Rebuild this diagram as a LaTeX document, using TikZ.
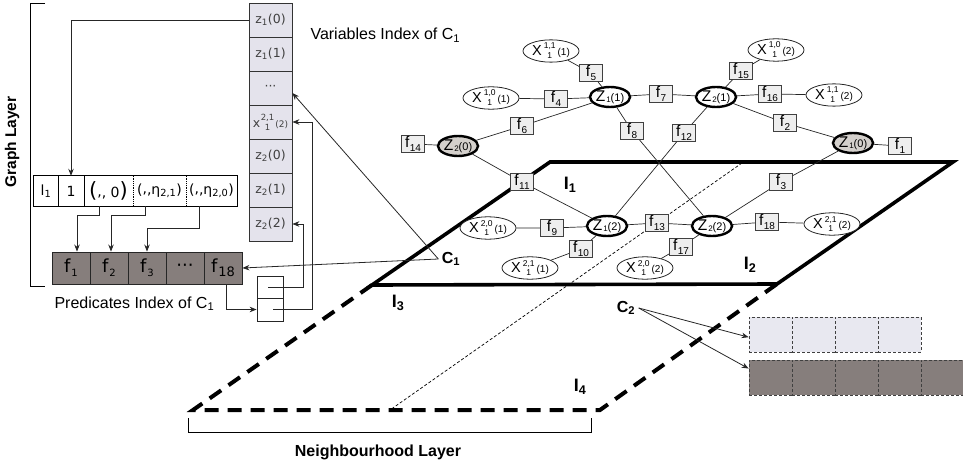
\documentclass[tikz,border=0pt]{standalone}
\usepackage{fontspec}
\setmainfont{Liberation Sans}
\newfontfamily\dv{DejaVu Sans}
\usetikzlibrary{arrows.meta,shapes.geometric,calc}

\definecolor{colcell}{RGB}{228,227,236}
\definecolor{predcell}{RGB}{134,126,124}
\definecolor{nblight}{RGB}{232,232,240}
\definecolor{zfill}{RGB}{212,208,204}
\definecolor{ffill}{RGB}{238,238,238}

% small stacked indices
\newcommand\sm{\fontsize{8.5}{8.5}\selectfont}
\newcommand\xlab[3]{X\kern2pt\raisebox{-3pt}{\sm\shortstack{#1\\#2}}\kern2pt{\fontsize{10}{10}\selectfont(#3)}}
\newcommand\zlab[2]{Z\kern1pt\raisebox{-1.5pt}{\fontsize{8}{8}\selectfont #1}{\fontsize{11}{11}\selectfont(#2)}}
\newcommand\flab[1]{f\kern0.5pt\raisebox{-3.5pt}{\fontsize{10}{10}\selectfont #1}}
\newcommand\plab[2]{f\kern1pt\raisebox{-4pt}{\fontsize{#2}{#2}\selectfont #1}}

\tikzset{
  fac/.style={draw=black!75, fill=ffill, line width=0.8pt, minimum width=23pt,
    minimum height=17pt, inner sep=0pt, font=\fontsize{15.5}{15.5}\selectfont},
  var/.style={ellipse, draw=black!85, fill=white, line width=0.8pt, minimum width=56pt,
    minimum height=19pt, inner sep=0pt, font=\fontsize{14.5}{14.5}\selectfont},
  zv/.style={ellipse, draw=black, fill=white, line width=2.4pt, minimum width=38pt,
    minimum height=20pt, inner sep=0pt, font=\fontsize{15.5}{15.5}\selectfont},
  zvo/.style={zv, fill=zfill},
  link/.style={draw=black!85, line width=0.7pt},
  arr/.style={draw=black!85, line width=0.8pt, -{Stealth[length=7pt,width=5.5pt]}},
  vcell/.style={draw=black!80, fill=colcell, line width=0.8pt, minimum width=43pt,
    minimum height=34pt, inner sep=0pt, text=black!75, font=\dv\fontsize{12.5}{13}\selectfont},
  pcell/.style={draw=black!85, fill=predcell, line width=0.9pt, minimum width=38pt,
    minimum height=32pt, inner sep=0pt, font=\dv\fontsize{18}{18}\selectfont},
  tcell/.style={minimum height=30pt, inner sep=0pt, font=\dv\fontsize{14}{14}\selectfont},
  ncell/.style={draw=black!75, dashed, dash pattern=on 3pt off 2pt, line width=0.8pt,
    minimum width=43pt, minimum height=35pt, inner sep=0pt},
  lbl/.style={font=\bfseries\fontsize{16}{16}\selectfont},
  llbl/.style={font=\bfseries\fontsize{18}{18}\selectfont},
  plane/.style={line width=3.6pt, line join=miter},
  nplane/.style={line width=4pt, dash pattern=on 14pt off 9pt},
}

\begin{document}
\begin{tikzpicture}[x=1pt,y=-1pt]
\useasboundingbox (0,0) rectangle (963,465);

% ---------- layers ----------
\coordinate (pa) at (372,285);
\coordinate (pb) at (550,162);
\coordinate (pc) at (953,162);
\coordinate (pd) at (777,284);
\coordinate (na) at (193,410);
\coordinate (nb) at (600,410);
\draw[nplane] (pa) -- (na) -- (nb) -- (pd);
\draw[dashed, line width=0.7pt, dash pattern=on 3pt off 2pt] (742,163) -- (390,410);
\draw[plane] (pa) -- (pb) -- (pc) -- (pd) -- cycle;

% ---------- brackets ----------
\draw[line width=0.9pt] (45,3) -- (30,3) -- (30,286) -- (45,286);
\node[font=\bfseries\fontsize{15.5}{16}\selectfont, rotate=90] (glayer) at (12,142) {Graph Layer};
\draw[line width=0.9pt] (188,418) -- (188,432) -- (591,432) -- (591,418);
\node[anchor=base, font=\bfseries\fontsize{16}{16}\selectfont] (nlayer) at (378,456) {Neighbourhood Layer};

% ---------- variables index ----------
\node[vcell] (v1) at (270.5,20)  {z\textsubscript{1}(0)};
\node[vcell] (v2) at (270.5,54)  {z\textsubscript{1}(1)};
\node[vcell] (v3) at (270.5,88)  {···};
\node[vcell] (v4) at (270.5,122) {x\kern0.5pt\raisebox{-3pt}{\sm\shortstack{2,1\\1}}\kern1pt{\fontsize{9}{9}\selectfont(2)}};
\node[vcell] (v5) at (270.5,156) {z\textsubscript{2}(0)};
\node[vcell] (v6) at (270.5,190) {z\textsubscript{2}(1)};
\node[vcell] (v7) at (270.5,224) {z\textsubscript{2}(2)};
\node[anchor=base west, font=\fontsize{16}{17}\selectfont] (vtitle) at (307,40) {Variables Index of C\textsubscript{1}};

% ---------- tuple ----------
\node[tcell, minimum width=24pt] (t1) at (46,191)  {l\textsubscript{1}};
\node[tcell, minimum width=26pt] (t2) at (71,191)  {1};
\node[tcell, minimum width=49pt] (t3) at (108.5,191) {{\fontsize{21}{21}\selectfont(}\raisebox{1pt}{,}, 0{\fontsize{21}{21}\selectfont)}};
\node[tcell, minimum width=53pt] (t4) at (159.5,191) {(\raisebox{1pt}{,},η\textsubscript{2,1})};
\node[tcell, minimum width=51pt] (t5) at (211.5,191) {(\raisebox{1pt}{,},η\textsubscript{2,0})};
\draw[line width=0.8pt] (t1.north west) rectangle (t5.south east);
\draw[line width=0.8pt] (t1.north east) -- (t1.south east);
\draw[line width=0.8pt] (t2.north east) -- (t2.south east);
\draw[line width=0.8pt, densely dotted] (t3.north east) -- (t3.south east);
\draw[line width=0.8pt, densely dotted] (t4.north east) -- (t4.south east);

% ---------- predicates index ----------
\node[pcell] (p1) at (71,268)  {\plab{1}{10}};
\node[pcell] (p2) at (109,268) {\plab{2}{10}};
\node[pcell] (p3) at (147,268) {\plab{3}{10}};
\node[pcell] (p4) at (185,268) {···};
\node[pcell] (p5) at (223,268) {\plab{18}{13}};
\node[anchor=base west, font=\fontsize{16}{17}\selectfont] (ptitle) at (51,308) {Predicates Index of C\textsubscript{1}};

% ---------- pointer block ----------
\node[draw=black!85, line width=0.8pt, minimum width=26pt, minimum height=22pt, inner sep=0pt] (b1) at (270,287) {};
\node[draw=black!85, line width=0.8pt, minimum width=26pt, minimum height=23pt, inner sep=0pt] (b2) at (270,309.5) {};

% ---------- index arrows ----------
\draw[arr] (v1.west) -| (t2.north);
\draw[arr] ([xshift=-9.5pt]t3.south) -- ++(0,9) -| ([xshift=6pt]p1.north);
\draw[arr] ([xshift=-14.5pt]t4.south) -- ++(0,9) -| ([xshift=2pt]p2.north);
\draw[arr] ([xshift=-12.5pt]t5.south) -- ++(0,22) -| (p3.north);
\draw[arr] ([xshift=-2pt]b1.center) -- ++(35,0) |- (v7.east);
\draw[arr] ([xshift=3pt]b2.center) -- ++(39,0) |- (v4.east);
\draw[arr] ([xshift=3pt]p5.south) |- (b2.west);

% ---------- factor graph ----------
\node[zv]  (z11) at (610,97)  {\zlab{1}{1}};
\node[zv]  (z21) at (716,97)  {\zlab{2}{1}};
\node[zvo] (z20) at (458,146) {\zlab{2}{0}};
\node[zvo] (z10) at (853,143) {\zlab{1}{0}};
\node[zv]  (z12) at (607,226) {\zlab{1}{2}};
\node[zv]  (z22) at (712,226) {\zlab{2}{2}};

\node[var] (xa) at (551,51)  {\xlab{1,1}{1}{1}};
\node[var] (xb) at (491,98)  {\xlab{1,0}{1}{1}};
\node[var] (xc) at (776,50)  {\xlab{1,0}{1}{2}};
\node[var] (xd) at (834,95)  {\xlab{1,1}{1}{2}};
\node[var] (xe) at (488,228) {\xlab{2,0}{1}{1}};
\node[var] (xf) at (530,268) {\xlab{2,1}{1}{1}};
\node[var] (xg) at (645,268) {\xlab{2,0}{1}{2}};
\node[var] (xh) at (832,224) {\xlab{2,1}{1}{2}};

\node[fac] (f1)  at (900,146) {\flab{1}};
\node[fac] (f2)  at (785,123) {\flab{2}};
\node[fac] (f3)  at (781,182) {\flab{3}};
\node[fac] (f4)  at (556,99)  {\flab{4}};
\node[fac] (f5)  at (591,73)  {\flab{5}};
\node[fac] (f6)  at (522,126) {\flab{6}};
\node[fac] (f7)  at (661,94)  {\flab{7}};
\node[fac] (f8)  at (632,131) {\flab{8}};
\node[fac] (f9)  at (552,228) {\flab{9}};
\node[fac] (f10) at (581,249) {\flab{10}};
\node[fac] (f11) at (522,182) {\flab{11}};
\node[fac] (f12) at (684,133) {\flab{12}};
\node[fac] (f13) at (657,223) {\flab{13}};
\node[fac] (f14) at (413,144) {\flab{14}};
\node[fac] (f15) at (741,71)  {\flab{15}};
\node[fac] (f16) at (770,94)  {\flab{16}};
\node[fac] (f17) at (681,247) {\flab{17}};
\node[fac] (f18) at (767,222) {\flab{18}};

\draw[link] (xa) -- (f5) -- (z11);
\draw[link] (xb) -- (f4) -- (z11);
\draw[link] (z11) -- (f7) -- (z21);
\draw[link] (z11) -- (f6) -- (z20);
\draw[link] (z11) -- (f8) -- (z22);
\draw[link] (z21) -- (f12) -- (z12);
\draw[link] (f14) -- (z20);
\draw[link] (z20) -- (f11) -- (z12);
\draw[link] (xc) -- (f15) -- (z21);
\draw[link] (z21) -- (f16) -- (xd);
\draw[link] (z21) -- (f2) -- (z10);
\draw[link] (z10) -- (f1);
\draw[link] (z10) -- (f3) -- (z22);
\draw[link] (xe) -- (f9) -- (z12);
\draw[link] (z12) -- (f10) -- (xf);
\draw[link] (z12) -- (f13) -- (z22);
\draw[link] (z22) -- (f17) -- (xg);
\draw[link] (z22) -- (f18) -- (xh);

% ---------- layer labels ----------
\node[llbl] (i1) at (570,185) {I\textsubscript{1}};
\node[llbl] (i2) at (750,265) {I\textsubscript{2}};
\node[llbl] (i3) at (398,303) {I\textsubscript{3}};
\node[llbl] (i4) at (580,387) {I\textsubscript{4}};
\node[lbl] (c1) at (451,259) {C\textsubscript{1}};
\node[lbl] (c2) at (626,308) {C\textsubscript{2}};

\draw[arr] (c1.west) -- (p5.east);
\draw[arr] (c1.west) -- ([yshift=-5pt]v3.east);

% ---------- neighbourhood cells ----------
\foreach \i/\x in {1/770.5,2/813.5,3/856.5,4/899.5}
  \node[ncell, fill=nblight] (n\i) at (\x,334.5) {};
\foreach \i/\x in {1/770.5,2/813.5,3/856.5,4/899.5,5/942.5}
  \node[ncell, fill=predcell] (m\i) at (\x,377.5) {};
\draw[arr] (c2.east) -- ($(n1.west)!0.15!(n1.south west)$);
\draw[arr] (c2.east) -- ($(m1.west)!0.5!(m1.north west)$);
\end{tikzpicture}
\end{document}
